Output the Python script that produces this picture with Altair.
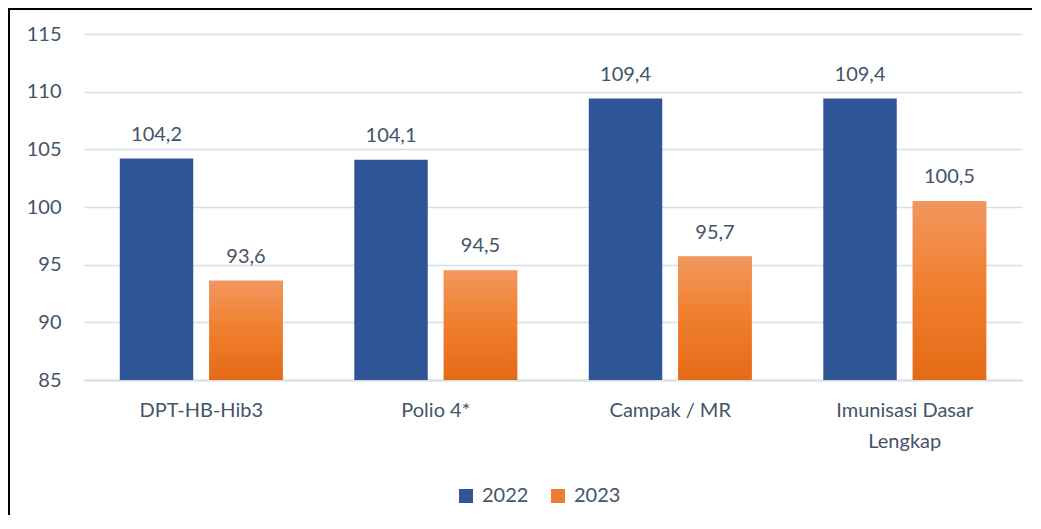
import altair as alt
import pandas as pd

categories = ["DPT-HB-Hib3", "Polio 4*", "Campak / MR", "Imunisasi Dasar Lengkap"]
years = ["2022", "2023"]
values_2022 = [104.2, 104.1, 109.4, 109.4]
values_2023 = [93.6, 94.5, 95.7, 100.5]
axis_min = 85

rows = []
for c, v in zip(categories, values_2022):
    rows.append({"cat": c, "year": "2022", "val": v})
for c, v in zip(categories, values_2023):
    rows.append({"cat": c, "year": "2023", "val": v})
df = pd.DataFrame(rows)
df["label"] = df["val"].map(lambda v: f"{v:.1f}".replace(".", ","))

FONT = "Lato"
TXT = "#44546A"
BLUE = "#2F5597"
ORANGE = "#ED7D31"

x_enc = alt.X(
    "cat:N",
    sort=categories,
    title=None,
    scale=alt.Scale(paddingInner=0, paddingOuter=0),
    axis=alt.Axis(
        labelAngle=0,
        labelFont=FONT,
        labelFontSize=20,
        labelColor=TXT,
        labelPadding=20,
        labelBaseline="top",
        labelLineHeight=31,
        labelExpr="datum.label == 'Imunisasi Dasar Lengkap' ? ['Imunisasi Dasar', 'Lengkap'] : datum.label",
        ticks=False,
        domainColor="#D9DEE4",
        domainWidth=2,
        grid=False,
    ),
)
xoff_enc = alt.XOffset(
    "year:N", sort=years, scale=alt.Scale(paddingInner=0.179, paddingOuter=0.4)
)
y_enc = alt.Y(
    "val:Q",
    title=None,
    scale=alt.Scale(domain=[85, 115], zero=False, nice=False),
    axis=alt.Axis(
        values=[85, 90, 95, 100, 105, 110, 115],
        labelFont=FONT,
        labelFontSize=20,
        labelColor=TXT,
        labelPadding=23,
        ticks=False,
        domain=False,
        gridColor="#D9DEE4",
        gridWidth=1.5,
    ),
)
y2_enc = alt.datum(axis_min)

base = alt.Chart(df)

bars = base.mark_bar().encode(
    x=x_enc,
    xOffset=xoff_enc,
    y=y_enc,
    y2=y2_enc,
    color=alt.Color(
        "year:N",
        sort=years,
        scale=alt.Scale(domain=years, range=[BLUE, ORANGE]),
        legend=alt.Legend(
            title=None,
            orient="none",
            direction="horizontal",
            legendX=372,
            legendY=452,
            padding=0,
            symbolType="square",
            symbolSize=196,
            symbolStrokeWidth=0,
            symbolOpacity=1,
            labelFont=FONT,
            labelFontSize=20,
            labelColor=TXT,
            labelOffset=6,
            columnPadding=19,
        ),
    ),
)

grad = alt.Gradient(
    gradient="linear",
    x1=0, y1=0, x2=0, y2=1,
    stops=[
        alt.GradientStop(color="#F2975F", offset=0),
        alt.GradientStop(color="#F07E2C", offset=0.5),
        alt.GradientStop(color="#E46A17", offset=1),
    ],
)

orange_overlay = base.transform_filter(alt.datum.year == "2023").mark_bar(color=grad).encode(
    x=x_enc, xOffset=xoff_enc, y=y_enc, y2=y2_enc
)

labels = base.mark_text(
    font=FONT, fontSize=20, color=TXT, baseline="alphabetic", dy=-18
).encode(x=x_enc, xOffset=xoff_enc, y=y_enc, text="label:N")

frame_df = pd.DataFrame({"k": [0]})
frame_left = alt.Chart(frame_df).mark_rule(color="black", strokeWidth=2).encode(
    x=alt.value(-75), y=alt.value(-26), y2=alt.value(520)
)
frame_top = alt.Chart(frame_df).mark_rule(color="black", strokeWidth=2).encode(
    x=alt.value(-76), x2=alt.value(960), y=alt.value(-25)
)

chart = (
    alt.layer(bars, orange_overlay, labels, frame_left, frame_top)
    .properties(
        width=938,
        height=346,
        autosize=alt.AutoSizeParams(type="none"),
        padding={"left": 76, "top": 26, "right": 10, "bottom": 135},
    )
    .configure(background="white", view=alt.ViewConfig(stroke=None))
)

chart.save("out.html", embed_options={"renderer": "svg", "actions": False})
